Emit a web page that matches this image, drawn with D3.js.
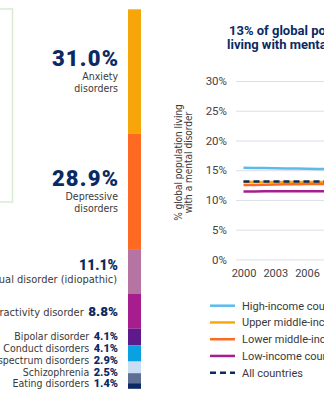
<!DOCTYPE html>
<html>
<head>
<meta charset="utf-8">
<script src="https://cdn.jsdelivr.net/npm/d3@7"></script>
<style>
  body { margin: 0; background: #fff; overflow: hidden; }
  text { font-family: "Liberation Sans Narrow", "DejaVu Sans Condensed", Roboto, sans-serif; font-stretch: condensed; }
  .pct { font-family: Roboto, "Noto Sans", sans-serif; font-stretch: normal; font-weight: 900; fill: #0b2a63; }
  .lab { fill: #3a3a3a; }
  .rb { font-family: Roboto, sans-serif; font-stretch: normal; }
</style>
</head>
<body>
<svg id="chart" width="324" height="400"></svg>
<script>
// share of people with a mental disorder, by disorder (%)
var disorders = ["Anxiety disorders", "Depressive disorders", "Developmental intellectual disorder (idiopathic)",
  "Attention-deficit/hyperactivity disorder", "Bipolar disorder", "Conduct disorders",
  "Autism spectrum disorders", "Schizophrenia", "Eating disorders"];
var shares = [31.0, 28.9, 11.1, 8.8, 4.1, 4.1, 2.9, 2.5, 1.4];
var barColors = ["#f6a609", "#ff6a22", "#b674a2", "#a61d8d", "#5d1a8c", "#0aa1e2", "#c9ddf3", "#5d6f95", "#0b2a63"];

// prevalence over time by income group (%)
var years = [2000, 2001, 2002, 2003, 2004, 2005, 2006, 2007, 2008];
var highIncome = [15.4, 15.38, 15.35, 15.32, 15.3, 15.28, 15.25, 15.22, 15.2];
var upperMiddle = [13.0, 13.0, 13.0, 13.02, 13.02, 13.02, 13.0, 13.0, 13.0];
var lowerMiddle = [12.5, 12.52, 12.55, 12.6, 12.62, 12.65, 12.67, 12.7, 12.7];
var lowIncome = [11.42, 11.42, 11.44, 11.45, 11.45, 11.46, 11.46, 11.47, 11.47];
var allCountries = [13.1, 13.1, 13.1, 13.1, 13.1, 13.1, 13.1, 13.1, 13.1];
var yTicks = [0, 5, 10, 15, 20, 25, 30];
var xTicks = [2000, 2003, 2006];
var groupNames = ["High-income countries", "Upper middle-income countries", "Lower middle-income countries", "Low-income countries", "All countries"];
var groupColors = ["#5bbcec", "#f9a90c", "#ff6a22", "#a61d8d", "#0b2a63"];

var svg = d3.select("#chart");

// edge of neighbouring panel
svg.append("rect")
  .attr("x", -10).attr("y", 9).attr("width", 22.5).attr("height", 193)
  .attr("fill", "none").attr("stroke", "#d7ecd3").attr("stroke-width", 1.5);

// ---- stacked bar ----
var total = d3.sum(shares);
var bar = d3.scaleLinear().domain([0, total]).range([9.3, 388.8]);
var starts = [], acc = 0;
shares.forEach(function(s) { starts.push(acc); acc += s; });

svg.append("g").selectAll("rect").data(shares).enter().append("rect")
  .attr("x", 128).attr("width", 13)
  .attr("y", function(d, i) { return bar(starts[i]); })
  .attr("height", function(d, i) { return bar(starts[i] + d) - bar(starts[i]); })
  .attr("fill", function(d, i) { return barColors[i]; });

var labels = svg.append("g");
var right = 118;
var smallCount = shares.filter(function(s) { return s < 5; }).length, smallIdx = 0;

shares.forEach(function(s, i) {
  var mid = (bar(starts[i]) + bar(starts[i] + s)) / 2;
  var pctText = s.toFixed(1) + "%";
  if (s >= 20) {
    var words = disorders[i].split(" ");
    labels.append("text").attr("class", "pct").attr("x", right + 1.2).attr("y", mid - 5)
      .attr("text-anchor", "end").style("font-size", "22px").style("letter-spacing", "1.2px").text(pctText);
    labels.append("text").attr("class", "lab").attr("x", right).attr("y", mid + 9)
      .attr("text-anchor", "end").style("font-size", "10.5px").text(words[0]);
    labels.append("text").attr("class", "lab").attr("x", right).attr("y", mid + 20.5)
      .attr("text-anchor", "end").style("font-size", "10.5px").text(words.slice(1).join(" "));
  } else if (s >= 10) {
    labels.append("text").attr("class", "pct").attr("x", right).attr("y", mid - 1)
      .attr("text-anchor", "end").style("font-size", "14px").text(pctText);
    labels.append("text").attr("class", "lab").attr("x", right - 1).attr("y", mid + 11.5)
      .attr("text-anchor", "end").style("font-size", "11px").text(disorders[i]);
  } else {
    var yPos, fs;
    if (s < 5) {
      yPos = 387.3 - (smallCount - 1 - smallIdx) * 11.8; smallIdx++; fs = 11;
    } else {
      yPos = mid + 4.7; fs = 13.5;
    }
    var p = labels.append("text").attr("class", "pct").attr("x", right).attr("y", yPos)
      .attr("text-anchor", "end").style("font-size", fs + "px").text(pctText);
    var w = p.node().getComputedTextLength();
    labels.append("text").attr("class", "lab").attr("x", right - w - 4.5).attr("y", yPos)
      .attr("text-anchor", "end").style("font-size", (s < 5 ? 10.5 : 11) + "px").text(disorders[i]);
  }
});

// ---- line chart ----
var x = d3.scaleLinear().domain([2000, 2006]).range([243.5, 307]);
var y = d3.scaleLinear().domain([0, 30]).range([259.4, 81]);

var yAxis = svg.append("g").attr("transform", "translate(236,0)")
  .call(d3.axisLeft(y).tickValues(yTicks).tickSize(-100).tickPadding(9).tickFormat(function(d) { return d + "%"; }));
yAxis.select(".domain").remove();
yAxis.selectAll(".tick line").attr("stroke", "#dcdfe9");
yAxis.selectAll(".tick text").attr("class", "rb").attr("fill", "#444").style("font-size", "11.5px");

var xAxis = svg.append("g").attr("transform", "translate(0,259.4)")
  .call(d3.axisBottom(x).tickValues(xTicks).tickSize(0).tickPadding(10).tickFormat(d3.format("d")));
xAxis.select(".domain").remove();
xAxis.selectAll(".tick text").attr("class", "rb").attr("fill", "#444").style("font-size", "11px");

var series = [highIncome, upperMiddle, lowerMiddle, lowIncome, allCountries];
var line = d3.line().x(function(d, i) { return x(years[i]); }).y(function(d) { return y(d); });

svg.append("g").selectAll("path").data(series).enter().append("path")
  .attr("d", line)
  .attr("fill", "none")
  .attr("stroke", function(d, i) { return groupColors[i]; })
  .attr("stroke-width", 2.5)
  .attr("stroke-dasharray", function(d, i) { return i == 4 ? "6,4" : null; });

// title
var title = svg.append("text").attr("class", "rb").attr("fill", "#0b2a63")
  .style("font-weight", "bold").style("font-size", "13px");
title.append("tspan").attr("x", 229).attr("y", 35).text("13% of global population");
title.append("tspan").attr("x", 227).attr("y", 49).text("living with mental disorders");

// y-axis title
var yt = svg.append("text").attr("transform", "translate(182,162.5) rotate(-90)")
  .attr("text-anchor", "middle").attr("fill", "#3a3a3a").style("font-size", "10px");
yt.append("tspan").attr("x", 0).attr("y", 0).text("% global population living");
yt.append("tspan").attr("x", 0).attr("y", 10).text("with a mental disorder");

// legend
var legend = svg.append("g").selectAll("g").data(groupNames).enter().append("g")
  .attr("transform", function(d, i) { return "translate(0," + (305.7 + i * 16.75) + ")"; });
legend.append("line").attr("x1", 210).attr("x2", 235)
  .attr("stroke", function(d, i) { return groupColors[i]; }).attr("stroke-width", 2.5)
  .attr("stroke-dasharray", function(d, i) { return i == 4 ? "6,4" : null; });
legend.append("text").attr("class", "rb").attr("x", 242).attr("y", 4).attr("fill", "#3a3a3a")
  .style("font-size", "11px")
  .text(function(d) { return d; });
</script>
</body>
</html>
